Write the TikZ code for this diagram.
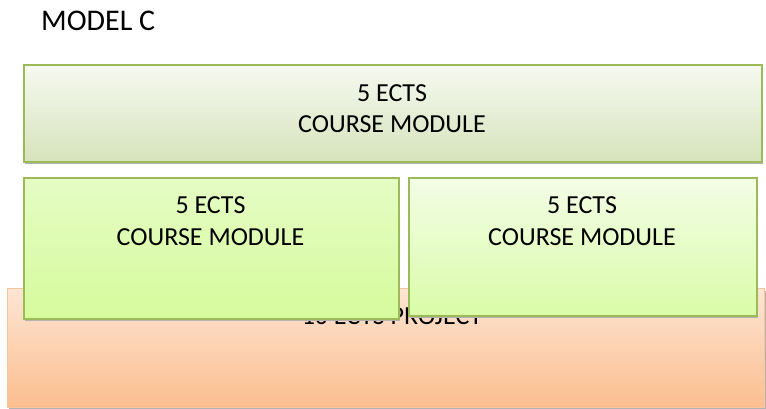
\documentclass[tikz,border=0pt]{standalone}
\usepackage{fontspec}
\setmainfont{Carlito}
\usepackage{tikz}
\usetikzlibrary{positioning,shadows}
\definecolor{olive2}{RGB}{155,187,89}
\definecolor{topfill1}{RGB}{246,249,240}
\definecolor{topfill2}{RGB}{214,227,188}
\definecolor{modfill1}{RGB}{229,252,196}
\definecolor{modfill2}{RGB}{214,251,156}
\definecolor{modfill3}{RGB}{243,253,230}
\definecolor{modfill4}{RGB}{218,252,168}
\definecolor{projfill1}{RGB}{253,229,211}
\definecolor{projfill2}{RGB}{251,190,143}
\definecolor{projline}{RGB}{250,196,158}
\tikzset{
  boxshadow/.style={drop shadow={shadow xshift=1.5pt, shadow yshift=-2.5pt,
    fill=black!30, opacity=1}},
  topbox/.style={draw=olive2, line width=1.8pt, top color=topfill1, bottom color=topfill2,
    boxshadow, anchor=north west, inner sep=0pt},
  modbox/.style={draw=olive2, line width=1.8pt, boxshadow, anchor=north west, inner sep=0pt},
  projbox/.style={draw=projline, line width=1pt, top color=projfill1, bottom color=projfill2,
    boxshadow, anchor=north west, inner sep=0pt},
  boxtext/.style={align=center, font=\fontsize{26}{32}\selectfont, inner sep=0pt}
}
\begin{document}
\begin{tikzpicture}[x=1pt, y=1pt]
\useasboundingbox (0,0) rectangle (766,-409);
\node[anchor=base west, font=\fontsize{30}{36}\selectfont, inner sep=0pt] (title) at (41,-31) {MODEL C};

% project at the back
\node[projbox, minimum width=757pt, minimum height=119pt] (proj) at (7,-288) {};
\node[boxtext, anchor=base] (projtxt) at (392,-324) {10 ECTS PROJECT};

% course modules
\node[topbox, minimum width=738pt, minimum height=97pt] (top) at (23,-64) {};
\node[boxtext, anchor=base] (toptxt) at (392,-133) {5 ECTS\\COURSE MODULE};
\node[modbox, top color=modfill1, bottom color=modfill2,
  minimum width=375pt, minimum height=141pt] (left) at (23,-177) {};
\node[boxtext, anchor=base] (lefttxt) at (210.5,-245) {5 ECTS\\COURSE MODULE};
\node[modbox, top color=modfill3, bottom color=modfill4,
  minimum width=348pt, minimum height=138pt] (right) at (408,-177) {};
\node[boxtext, anchor=base] (righttxt) at (582,-245) {5 ECTS\\COURSE MODULE};
\end{tikzpicture}
\end{document}
